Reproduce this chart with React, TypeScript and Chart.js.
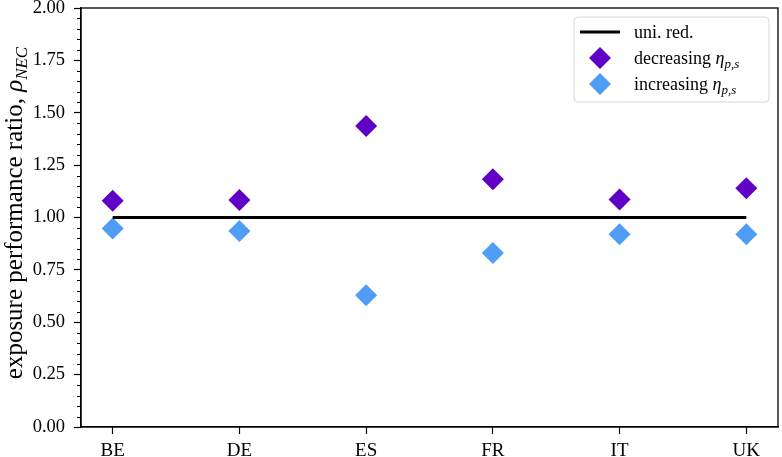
import React, { useEffect, useRef } from 'react';
import { Chart, registerables } from 'chart.js';

Chart.register(...registerables);

const categories = ['BE', 'DE', 'ES', 'FR', 'IT', 'UK'];
const uniformReduction = [1.0, 1.0, 1.0, 1.0, 1.0, 1.0];
const decreasingEta = [1.08, 1.083, 1.437, 1.182, 1.086, 1.14];
const increasingEta = [0.947, 0.936, 0.629, 0.831, 0.92, 0.92];
const yTickValues = [0, 0.25, 0.5, 0.75, 1.0, 1.25, 1.5, 1.75, 2.0];
const yMinorStep = 0.05;
const xRange = [-0.25, 5.25];

const yTitleText = 'exposure performance ratio, ';
const yTitleSymbol = 'ρ';
const yTitleSub = 'NEC';
const legendTexts = ['uni. red.', 'decreasing ', 'increasing '];
const etaSymbol = 'η';
const etaSub = 'p,s';

const PURPLE = '#6000C6';
const BLUE = '#509DF5';
const SERIF = '"Liberation Serif", "DejaVu Serif", serif';

type Part = { text: string; font: string; dy?: number };

function measureParts(ctx: CanvasRenderingContext2D, parts: Part[]) {
  let w = 0;
  for (const p of parts) {
    ctx.font = p.font;
    w += ctx.measureText(p.text).width;
  }
  return w;
}

function drawParts(ctx: CanvasRenderingContext2D, parts: Part[], x: number, y: number) {
  let cx = x;
  for (const p of parts) {
    ctx.font = p.font;
    ctx.fillText(p.text, cx, y + (p.dy || 0));
    cx += ctx.measureText(p.text).width;
  }
  return cx;
}

function diamond(ctx: CanvasRenderingContext2D, x: number, y: number, r: number, color: string) {
  ctx.beginPath();
  ctx.moveTo(x, y - r);
  ctx.lineTo(x + r, y);
  ctx.lineTo(x, y + r);
  ctx.lineTo(x - r, y);
  ctx.closePath();
  ctx.fillStyle = color;
  ctx.fill();
}

const decorPlugin = {
  id: 'decor',
  afterDraw(chart: any) {
    const { ctx, chartArea: a, scales } = chart;
    const ys = scales.y;
    ctx.save();

    ctx.strokeStyle = '#000';
    ctx.lineWidth = 1.3;
    ctx.strokeRect(a.left, a.top, a.right - a.left, a.bottom - a.top);

    ctx.lineWidth = 1;
    const yMin = yTickValues[0];
    const yMax = yTickValues[yTickValues.length - 1];
    const n = Math.round((yMax - yMin) / yMinorStep);
    for (let i = 0; i <= n; i++) {
      if (i % 5 === 0) continue;
      const py = Math.round(ys.getPixelForValue(yMin + i * yMinorStep)) + 0.5;
      ctx.beginPath();
      ctx.moveTo(a.left - 4, py);
      ctx.lineTo(a.left, py);
      ctx.stroke();
    }

    const titleParts: Part[] = [
      { text: yTitleText, font: `25px ${SERIF}` },
      { text: yTitleSymbol, font: `italic 25px ${SERIF}` },
      { text: yTitleSub, font: `italic 17px ${SERIF}`, dy: 5 },
    ];
    const tw = measureParts(ctx, titleParts);
    ctx.save();
    ctx.translate(22, 213);
    ctx.rotate(-Math.PI / 2);
    ctx.fillStyle = '#000';
    ctx.textBaseline = 'alphabetic';
    ctx.textAlign = 'left';
    drawParts(ctx, titleParts, -tw / 2, 0);
    ctx.restore();

    const ds = chart.data.datasets;
    const bx = a.right - 204;
    const by = a.top + 9;
    const bw = 195;
    const bh = 85;
    ctx.beginPath();
    ctx.roundRect(bx, by, bw, bh, 4);
    ctx.fillStyle = 'rgba(255,255,255,0.85)';
    ctx.fill();
    ctx.strokeStyle = '#d6d6d6';
    ctx.lineWidth = 1;
    ctx.stroke();

    const rowY = [by + 15, by + 41, by + 67];
    const sampleX = bx + 26;
    const textX = bx + 60;
    ctx.strokeStyle = ds[0].borderColor;
    ctx.lineWidth = 2.8;
    ctx.beginPath();
    ctx.moveTo(bx + 6, rowY[0]);
    ctx.lineTo(bx + 46, rowY[0]);
    ctx.stroke();
    diamond(ctx, sampleX, rowY[1], 11, ds[1].backgroundColor);
    diamond(ctx, sampleX, rowY[2], 11, ds[2].backgroundColor);

    ctx.fillStyle = '#000';
    ctx.textBaseline = 'alphabetic';
    ctx.textAlign = 'left';
    const lf = `18px ${SERIF}`;
    drawParts(ctx, [{ text: legendTexts[0], font: lf }], textX, rowY[0] + 6);
    for (let i = 1; i <= 2; i++) {
      drawParts(
        ctx,
        [
          { text: legendTexts[i], font: lf },
          { text: etaSymbol, font: `italic 18px ${SERIF}` },
          { text: etaSub, font: `italic 13px ${SERIF}`, dy: 4 },
        ],
        textX,
        rowY[i] + 6
      );
    }
    ctx.restore();
  },
};

export default function App() {
  const ref = useRef<HTMLCanvasElement | null>(null);

  useEffect(() => {
    if (!ref.current) return;
    Chart.defaults.font.family = SERIF;
    const toPoints = (vals: number[]) => vals.map((v, i) => ({ x: i, y: v }));
    const chart = new Chart(ref.current, {
      type: 'line',
      data: {
        datasets: [
          {
            label: legendTexts[0],
            data: toPoints(uniformReduction),
            borderColor: '#000000',
            backgroundColor: '#000000',
            borderWidth: 2.8,
            pointRadius: 0,
            showLine: true,
          },
          {
            label: legendTexts[1] + etaSymbol,
            data: toPoints(decreasingEta),
            showLine: false,
            pointStyle: 'rectRot',
            pointRadius: 11,
            pointBorderWidth: 0,
            backgroundColor: PURPLE,
            borderColor: PURPLE,
          },
          {
            label: legendTexts[2] + etaSymbol,
            data: toPoints(increasingEta),
            showLine: false,
            pointStyle: 'rectRot',
            pointRadius: 11,
            pointBorderWidth: 0,
            backgroundColor: BLUE,
            borderColor: BLUE,
          },
        ],
      },
      options: {
        animation: false,
        responsive: false,
        devicePixelRatio: 1,
        layout: { autoPadding: false, padding: { left: 0, top: 8, right: 4, bottom: 0 } },
        plugins: { legend: { display: false }, tooltip: { enabled: false } },
        scales: {
          x: {
            type: 'linear',
            min: xRange[0],
            max: xRange[1],
            afterBuildTicks: (s: any) => {
              s.ticks = categories.map((_, i) => ({ value: i }));
            },
            afterFit: (s: any) => {
              s.height = 30;
              s.paddingLeft = 0;
              s.paddingRight = 0;
            },
            ticks: {
              callback: (v: any) => categories[Math.round(Number(v))] ?? '',
              color: '#000',
              font: { size: 19, family: SERIF },
              padding: 6,
              maxRotation: 0,
              autoSkip: false,
            },
            grid: {
              drawOnChartArea: false,
              drawTicks: true,
              tickLength: 7,
              tickColor: '#000',
              tickWidth: 1.2,
            },
            border: { display: true, color: '#000', width: 1.3 },
          },
          y: {
            type: 'linear',
            min: yTickValues[0],
            max: yTickValues[yTickValues.length - 1],
            afterBuildTicks: (s: any) => {
              s.ticks = yTickValues.map((v) => ({ value: v }));
            },
            afterFit: (s: any) => {
              s.width = 81;
              s.paddingTop = 0;
              s.paddingBottom = 0;
            },
            ticks: {
              callback: (v: any) => Number(v).toFixed(2),
              color: '#000',
              font: { size: 18.5, family: SERIF },
              padding: 9,
            },
            grid: {
              drawOnChartArea: false,
              drawTicks: true,
              tickLength: 7,
              tickColor: '#000',
              tickWidth: 1.2,
            },
            border: { display: true, color: '#000', width: 1.3 },
          },
        },
      },
      plugins: [decorPlugin],
    } as any);
    return () => chart.destroy();
  }, []);

  return (
    <div style={{ position: 'fixed', left: 0, top: 0, width: 782, height: 457, background: '#fff' }}>
      <canvas ref={ref} width={782} height={457} style={{ width: 782, height: 457, display: 'block' }} />
    </div>
  );
}
